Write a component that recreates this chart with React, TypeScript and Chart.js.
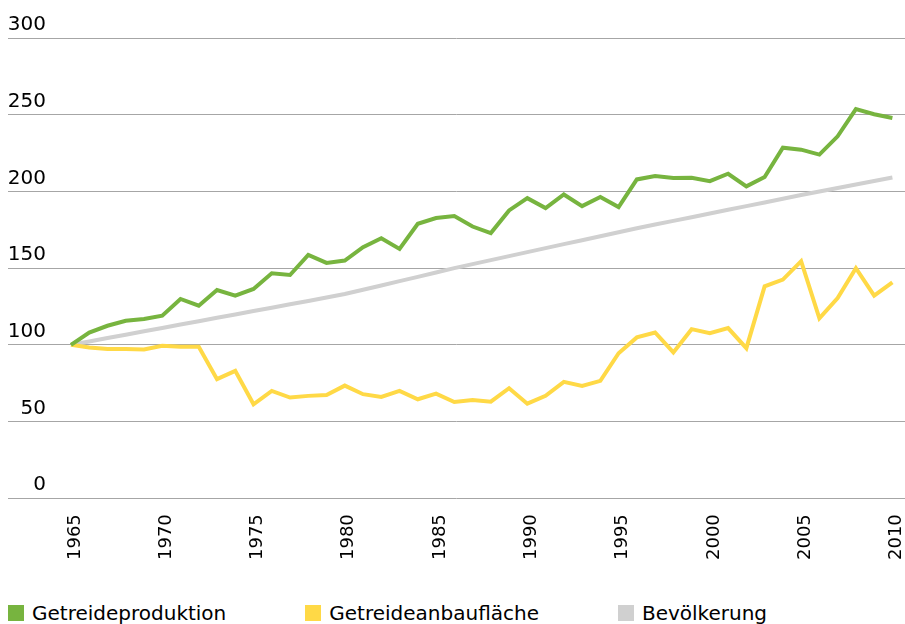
import React, { useEffect, useRef } from "react";
import { Chart, registerables } from "chart.js";

Chart.register(...registerables);

const years: number[] = [
  1965, 1966, 1967, 1968, 1969, 1970, 1971, 1972, 1973, 1974,
  1975, 1976, 1977, 1978, 1979, 1980, 1981, 1982, 1983, 1984,
  1985, 1986, 1987, 1988, 1989, 1990, 1991, 1992, 1993, 1994,
  1995, 1996, 1997, 1998, 1999, 2000, 2001, 2002, 2003, 2004,
  2005, 2006, 2007, 2008, 2009, 2010,
];

const getreideproduktion: number[] = [
  100, 108, 112.4, 115.7, 116.8, 119, 129.9, 125.5, 135.7, 132,
  136.4, 146.6, 145.5, 158.6, 153.4, 154.9, 163.6, 169.5, 162.5, 178.9,
  182.6, 183.9, 177.1, 172.8, 187.6, 195.6, 189.1, 198, 190.4, 196.3,
  189.8, 207.8, 210, 208.7, 208.9, 206.7, 211.5, 203.3, 209.4, 228.5,
  227.2, 224, 235.9, 253.6, 250.3, 247.9,
];

const getreideanbauflaeche: number[] = [
  100, 98.3, 97.2, 97.2, 96.9, 99.3, 98.7, 98.7, 77.6, 83,
  61.2, 69.9, 65.6, 66.7, 67.3, 73.4, 67.8, 66, 69.9, 64.5,
  68.2, 62.7, 64, 62.9, 71.7, 61.6, 66.7, 75.8, 73.2, 76.5,
  94.5, 104.8, 108, 95, 110.2, 107.6, 110.9, 97.8, 138.1, 142.5,
  154.5, 117.2, 130.5, 149.9, 132, 140.7,
];

const bevoelkerung: number[] = [
  100, 102.2, 104.4, 106.6, 108.8, 111, 113.2, 115.4, 117.6, 119.8,
  122, 124.2, 126.4, 128.6, 130.8, 133.1, 135.9, 138.7, 141.5, 144.3,
  147.1, 150, 152.6, 155.2, 157.8, 160.4, 163, 165.6, 168.2, 170.8,
  173.4, 176, 178.4, 180.8, 183.2, 185.6, 188, 190.4, 192.8, 195.2,
  197.6, 199.9, 202.2, 204.5, 206.8, 209,
];

const xTickYears: number[] = [1965, 1970, 1975, 1980, 1985, 1990, 1995, 2000, 2005, 2010];
const yTicks: number[] = [0, 50, 100, 150, 200, 250, 300];

const seriesNames: string[] = ["Getreideproduktion", "Getreideanbaufläche", "Bevölkerung"];
const seriesColors: string[] = ["#77b43f", "#ffd946", "#d0d0d0"];

const FONT = "'DejaVu Sans', Verdana, sans-serif";

export default function App() {
  const canvasRef = useRef<HTMLCanvasElement | null>(null);

  useEffect(() => {
    const canvas = canvasRef.current;
    if (!canvas) return;
    const seriesValues = [getreideproduktion, getreideanbauflaeche, bevoelkerung];
    const chart = new Chart(canvas, {
      type: "line",
      data: {
        datasets: seriesNames.map((name, i) => ({
          label: name,
          data: years.map((y, j) => ({ x: y, y: seriesValues[i][j] })),
          borderColor: seriesColors[i],
          backgroundColor: seriesColors[i],
          borderWidth: 4,
          pointRadius: 0,
          tension: 0,
          order: i === 2 ? 3 : i,
        })),
      },
      options: {
        animation: false,
        responsive: false,
        maintainAspectRatio: false,
        layout: { padding: { top: 38, bottom: 12, left: 0, right: 0 } },
        plugins: {
          legend: { display: false },
          tooltip: { enabled: false },
        },
        scales: {
          x: {
            type: "linear",
            min: 1961.55,
            max: 2010.71,
            grid: { display: false },
            border: { display: false },
            afterBuildTicks: (scale: any) => {
              scale.ticks = xTickYears.map((v) => ({ value: v }));
            },
            ticks: {
              autoSkip: false,
              maxRotation: 90,
              minRotation: 90,
              padding: 8,
              labelOffset: 4,
              color: "#000",
              font: { family: FONT, size: 18 },
              callback: (v: any) => String(v),
            },
          },
          y: {
            min: 0,
            max: 300,
            afterBuildTicks: (scale: any) => {
              scale.ticks = yTicks.map((v) => ({ value: v }));
            },
            afterFit: (scale: any) => {
              scale.width = 0;
              // let the right-aligned labels draw over the plot area (no clipping to the 0-width axis box)
              scale._computeLabelArea = () => undefined;
            },
            grid: { color: "#a6a6a6", lineWidth: 1, drawTicks: false },
            border: { display: false },
            ticks: {
              mirror: false,
              crossAlign: "near",
              padding: -38,
              labelOffset: -13,
              color: "#000",
              font: { family: FONT, size: 20 },
            },
          },
        },
      },
    });
    return () => chart.destroy();
  }, []);

  return (
    <div
      style={{
        position: "fixed",
        left: 0,
        top: 0,
        width: 905,
        height: 624,
        overflow: "hidden",
        background: "#fff",
      }}
    >
      <canvas
        ref={canvasRef}
        width={914}
        height={580}
        style={{ position: "absolute", left: 8, top: 0, width: 914, height: 580 }}
      />
      <div
        style={{
          position: "absolute",
          left: 8,
          top: 601,
          display: "flex",
          alignItems: "center",
          fontFamily: FONT,
          fontSize: 20,
          color: "#000",
          whiteSpace: "nowrap",
        }}
      >
        {seriesNames.map((name, i) => (
          <div key={name} style={{ display: "flex", alignItems: "center", marginRight: 79 }}>
            <span
              style={{
                display: "inline-block",
                width: 16,
                height: 16,
                background: seriesColors[i],
                marginRight: 8,
              }}
            />
            <span>{name}</span>
          </div>
        ))}
      </div>
    </div>
  );
}
